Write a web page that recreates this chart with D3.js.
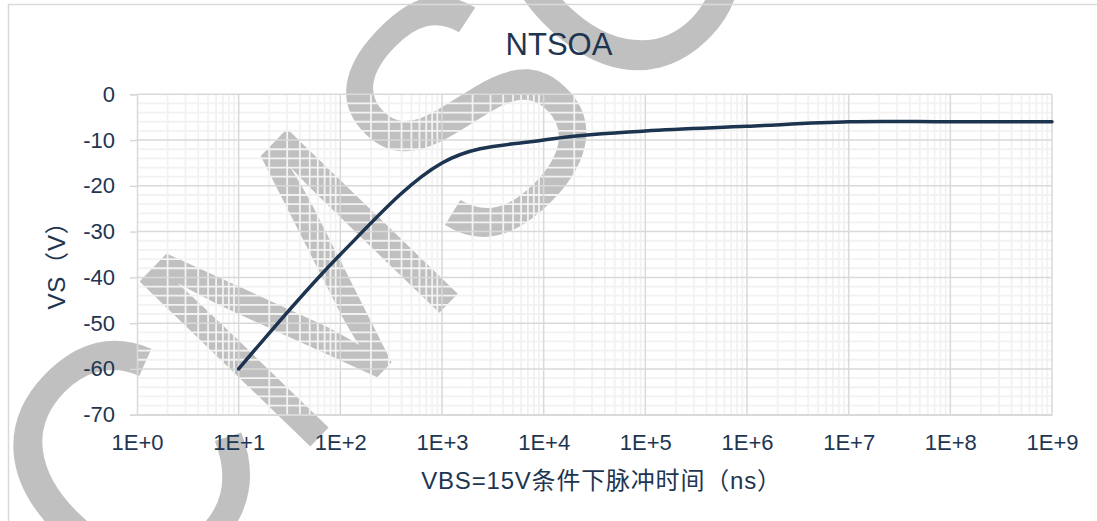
<!DOCTYPE html>
<html>
<head>
<meta charset="utf-8">
<script src="https://cdn.jsdelivr.net/npm/d3@7"></script>
<style>
  html, body { margin: 0; padding: 0; background: #ffffff; }
  svg { display: block; }
</style>
</head>
<body>
<script>
// ---- data ----
const title = "NTSOA";
const pulseTimes = [1e1, 1e2, 1e3, 1e4, 1e5, 1e6, 1e7, 1e8, 1e9];
const vsValues = [-60, -35, -15, -10, -8, -7, -6, -6, -6];
const xTickValues = [1e0, 1e1, 1e2, 1e3, 1e4, 1e5, 1e6, 1e7, 1e8, 1e9];
const xTickLabels = ["1E+0", "1E+1", "1E+2", "1E+3", "1E+4", "1E+5", "1E+6", "1E+7", "1E+8", "1E+9"];
const yTickValues = [0, -10, -20, -30, -40, -50, -60, -70];
const yTickLabels = ["0", "-10", "-20", "-30", "-40", "-50", "-60", "-70"];
const xTitle = "VBS=15V条件下脉冲时间（ns）";
const yTitle = "VS（V）";
const watermarkText = "CMSC";

// ---- layout ----
const W = 1097, H = 521;
const plot = { left: 137, right: 1052, top: 94.3, bottom: 414.7 };
const textColor = "#1e3551";
const majorGrid = "#d9d9d9";
const minorGrid = "#f2f2f2";
const fontLatin = "'Liberation Sans', Arial, 'Noto Sans CJK SC', sans-serif";

const svg = d3.select("body").append("svg")
  .attr("width", W).attr("height", H)
  .attr("viewBox", `0 0 ${W} ${H}`);

svg.append("rect").attr("width", W).attr("height", H).attr("fill", "#ffffff");

// watermark (decorative background)
svg.append("text")
  .attr("transform", "translate(133,630) rotate(-46) scale(0.92,1)")
  .attr("font-family", "'Liberation Sans', Arial, sans-serif")
  .attr("font-size", 345)
  .attr("fill", "#c0c0c0")
  .text(watermarkText);

// chart border
svg.append("rect")
  .attr("x", 8.5).attr("y", 4.5)
  .attr("width", 1102).attr("height", 600)
  .attr("fill", "none")
  .attr("stroke", majorGrid).attr("stroke-width", 1.5);

const x = d3.scaleLog().domain([1, 1e9]).range([plot.left, plot.right]);
const y = d3.scaleLinear().domain([-70, 0]).range([plot.bottom, plot.top]);

const g = svg.append("g");

// minor vertical gridlines (log)
const minorX = [];
for (let d = 0; d < 9; d++) {
  for (let m = 2; m <= 9; m++) minorX.push(m * Math.pow(10, d));
}
g.append("g").selectAll("line").data(minorX).join("line")
  .attr("x1", d => x(d)).attr("x2", d => x(d))
  .attr("y1", plot.top).attr("y2", plot.bottom)
  .attr("stroke", minorGrid).attr("stroke-width", 1.8);

// minor horizontal gridlines
const minorY = d3.range(-70, 0.001, 2).filter(v => Math.abs(v % 10) > 0.001);
g.append("g").selectAll("line").data(minorY).join("line")
  .attr("x1", plot.left).attr("x2", plot.right)
  .attr("y1", d => y(d)).attr("y2", d => y(d))
  .attr("stroke", minorGrid).attr("stroke-width", 1.8);

// major vertical gridlines
g.append("g").selectAll("line").data(xTickValues.slice(1)).join("line")
  .attr("x1", d => x(d)).attr("x2", d => x(d))
  .attr("y1", plot.top).attr("y2", plot.bottom)
  .attr("stroke", majorGrid).attr("stroke-width", 1.5);

// major horizontal gridlines
g.append("g").selectAll("line").data(yTickValues).join("line")
  .attr("x1", plot.left).attr("x2", plot.right)
  .attr("y1", d => y(d)).attr("y2", d => y(d))
  .attr("stroke", majorGrid).attr("stroke-width", 1.5);

// y axis
const yAxis = d3.axisLeft(y).tickValues(yTickValues)
  .tickFormat((d, i) => yTickLabels[i]).tickSize(7).tickPadding(15);
const yg = svg.append("g").attr("transform", `translate(${plot.left},0)`).call(yAxis);
yg.select(".domain").attr("stroke", majorGrid).attr("stroke-width", 1.5);
yg.selectAll(".tick line").attr("stroke", majorGrid).attr("stroke-width", 1.5);
yg.selectAll(".tick text")
  .attr("fill", textColor).attr("font-size", 22).attr("font-family", fontLatin);

// x axis
const xAxis = d3.axisBottom(x).tickValues(xTickValues)
  .tickFormat((d, i) => xTickLabels[i]).tickSize(0).tickPadding(20);
const xg = svg.append("g").attr("transform", `translate(0,${plot.bottom})`).call(xAxis);
xg.select(".domain").attr("stroke", majorGrid).attr("stroke-width", 1.5);
xg.selectAll(".tick text")
  .attr("fill", textColor).attr("font-size", 22).attr("font-family", fontLatin);

// series line
const line = d3.line()
  .x((d, i) => x(pulseTimes[i]))
  .y(d => y(d))
  .curve(d3.curveCardinal.tension(0));
svg.append("path")
  .datum(vsValues)
  .attr("d", line)
  .attr("fill", "none")
  .attr("stroke", "#1d3450")
  .attr("stroke-width", 3.5)
  .attr("stroke-linecap", "round");

// title
svg.append("text")
  .attr("x", 559).attr("y", 55)
  .attr("text-anchor", "middle")
  .attr("font-family", fontLatin).attr("font-size", 31)
  .attr("fill", textColor)
  .text(title);

// x axis title
svg.append("text")
  .attr("x", (plot.left + plot.right) / 2 + 7).attr("y", 489)
  .attr("text-anchor", "middle")
  .attr("font-family", fontLatin).attr("font-size", 24)
  .attr("letter-spacing", 0.8)
  .attr("fill", textColor)
  .text(xTitle);

// y axis title
svg.append("text")
  .attr("transform", `translate(65,${(plot.top + plot.bottom) / 2 + 5}) rotate(-90)`)
  .attr("text-anchor", "middle")
  .attr("font-family", fontLatin).attr("font-size", 24)
  .attr("letter-spacing", 0.8)
  .attr("fill", textColor)
  .text(yTitle);
</script>
</body>
</html>
